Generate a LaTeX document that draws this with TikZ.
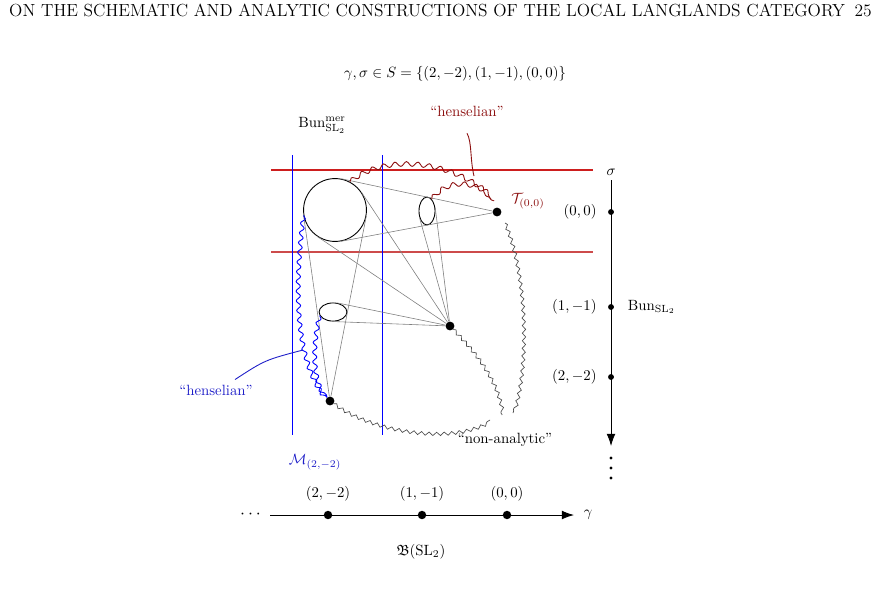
\documentclass[tikz,border=0pt]{standalone}
\usepackage{amsmath,amssymb}
\usetikzlibrary{calc,positioning,shapes.geometric,decorations.pathmorphing,arrows.meta}
\definecolor{henselred}{RGB}{140,15,15}
\definecolor{linered}{RGB}{205,30,30}
\definecolor{linered2}{RGB}{205,75,75}
\definecolor{hblue}{RGB}{30,30,200}
\tikzset{
  pt/.style={circle,fill,inner sep=0pt,minimum size=#1},
  pt/.default=0.21cm,
  cone/.style={gray,line width=0.4pt},
  wig/.style={decorate,decoration={snake,amplitude=0.05cm,segment length=0.23cm}},
  redwig/.style={henselred,semithick,decorate,decoration={snake,amplitude=0.055cm,segment length=0.27cm}},
  graywig/.style={black!70,line width=0.45pt,decorate,decoration={snake,amplitude=0.04cm,segment length=0.18cm}},
  axis/.style={semithick,-{Latex[length=0.29cm,width=0.21cm]}}
}
\begin{document}
\begin{tikzpicture}[x=0.0237cm,y=-0.0237cm]
\useasboundingbox (0,0) rectangle (884,610);
\node[anchor=base west] (head) at (4,17) {\fontsize{11.8}{14}\selectfont ON THE SCHEMATIC AND ANALYTIC CONSTRUCTIONS OF THE LOCAL LANGLANDS CATEGORY};
\node[anchor=base east] (page) at (877,17) {\fontsize{11.8}{14}\selectfont 25};

\node (S) at (455,74) {$\gamma,\sigma\in S=\{(2,-2),(1,-1),(0,0)\}$};
\node (Bm) at (322,125) {$\mathrm{Bun}^{\mathrm{mer}}_{\mathrm{SL}_2}$};
\node[henselred] (hr) at (467,111) {``henselian''};

\draw[linered,line width=0.75pt] (271,170) -- (593,170);
\draw[linered2,line width=0.75pt] (271,252) -- (593,252);
\draw[blue,line width=0.6pt] (292,155) -- (292,435);
\draw[blue,line width=0.6pt] (382,155) -- (382,435);

\node[draw,circle,semithick,minimum size=1.49cm,inner sep=0pt] (C) at (335,210) {};
\node[draw,ellipse,semithick,minimum width=0.38cm,minimum height=0.66cm,inner sep=0pt] (E1) at (427,211) {};
\node[draw,ellipse,semithick,minimum width=0.66cm,minimum height=0.43cm,inner sep=0pt] (E2) at (333,312) {};

\node[pt] (T) at (497,212) {};
\node[pt] (M) at (450,326) {};
\node[pt] (P) at (330,401) {};
\node[henselred] (Tl) at (528,201) {$\mathcal{T}_{(0,0)}$};

\foreach \s in {1,2}{
  \draw[cone] (T) -- (tangent cs:node=C,point={(T)},solution=\s);
  \draw[cone] (M) -- (tangent cs:node=C,point={(M)},solution=\s);
  \draw[cone] (P) -- (tangent cs:node=C,point={(P)},solution=\s);
}
\draw[cone] (M) -- (E1.220);
\draw[cone] (M) -- (E1.22);
\draw[cone] (M) -- (E2.264);
\draw[cone] (M) -- (E2.64);

\coordinate (tr1) at (491,199);
\coordinate (tr2) at (494,201);
\draw[redwig] (C.62) .. controls (380,158) and (445,158) .. (tr1);
\draw[redwig] (E1.68) .. controls (445,183) and (470,180) .. (tr2);
\coordinate (hr-end) at (474,176);
\draw[henselred,semithick] ([yshift=-0.28cm]hr.south) .. controls (472,142) and (470,160) .. (hr-end);

\draw[blue,semithick,wig] (C.190) .. controls (294,290) and (296,360) .. (P);
\draw[blue,semithick,wig] (E2.195) .. controls (312,350) and (314,380) .. (P);
\node[hblue] (hb) at (216,390) {``henselian''};
\coordinate (hb-end) at (303,350);
\draw[hblue,semithick] ([xshift=0.45cm]hb.north) .. controls (265,360) .. (hb-end);
\node[hblue] (Ml) at (315,462) {$\mathcal{M}_{(2,-2)}$};

\coordinate (na1) at (490,420);
\coordinate (na2) at (502,415);
\coordinate (na3) at (513,413);
\draw[graywig] (P) .. controls (370,430) and (450,445) .. (na1);
\draw[graywig] (M) .. controls (475,352) and (498,380) .. (na2);
\draw[graywig] ([shift={(0.19cm,-0.26cm)}]T.center) .. controls (525,270) and (530,360) .. (na3);
\node (na) at (505,440) {``non-analytic''};

\node (sig) at (611,172) {$\sigma$};
\coordinate (vend) at (611,446);
\draw[axis] (sig) -- (vend);
\node[pt=0.14cm] (r0) at (611,212) {};
\node[pt=0.14cm] (r1) at (611,307) {};
\node[pt=0.14cm] (r2) at (611,377) {};
\node[left=0.14cm of r0] (l0) {$(0,0)$};
\node[left=0.14cm of r1] (l1) {$(1,-1)$};
\node[left=0.14cm of r2] (l2) {$(2,-2)$};
\node[right=0.2cm of r1] (Bun) {$\mathrm{Bun}_{\mathrm{SL}_2}$};
\foreach \k/\y in {1/458,2/468,3/478}
  \node[pt=0.08cm] (vd\k) at (611,\y) {};

\node[scale=1.2] (dl) at (252,515) {$\cdots$};
\coordinate (hend) at (574,515);
\draw[axis] (dl) -- (hend);
\node[pt=0.2cm] (b2) at (328,515) {};
\node[pt=0.2cm] (b1) at (422,515) {};
\node[pt=0.2cm] (b0) at (507,515) {};
\node[above=0.1cm of b2] (k2) {$(2,-2)$};
\node[above=0.1cm of b1] (k1) {$(1,-1)$};
\node[above=0.1cm of b0] (k0) {$(0,0)$};
\node (gam) at (588,515) {$\gamma$};
\node (B) at (421,552) {$\mathfrak{B}(\mathrm{SL}_2)$};
\end{tikzpicture}
\end{document}
